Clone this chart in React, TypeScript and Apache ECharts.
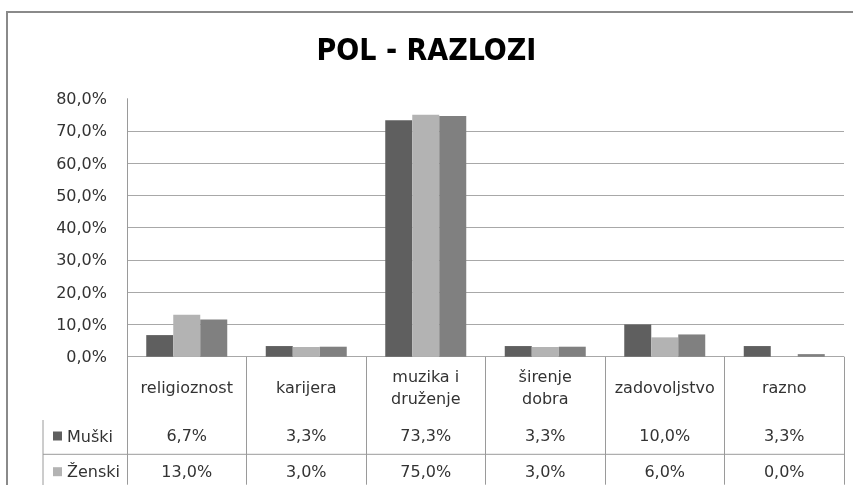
import React, { useEffect, useRef } from "react";
import * as echarts from "echarts";

const categories = ["religioznost", "karijera", "muzika i\ndruženje", "širenje\ndobra", "zadovoljstvo", "razno"];
const muski = [6.7, 3.3, 73.3, 3.3, 10.0, 3.3];
const zenski = [13.0, 3.0, 75.0, 3.0, 6.0, 0.0];
const ukupno = [11.5, 3.1, 74.6, 3.1, 6.9, 0.8];
const seriesNames = ["Muški", "Ženski", "Ukupno"];
const title = "POL - RAZLOZI";

const fmt = (v: number) => v.toFixed(1).replace(".", ",") + "%";
const FONT = "'DejaVu Sans', sans-serif";
const GRAY = "#9a9a9a";

export default function App() {
  const ref = useRef<HTMLDivElement>(null);
  useEffect(() => {
    if (!ref.current) return;
    const chart = echarts.init(ref.current, undefined, { renderer: "svg" });
    const rowAxis = (vals: number[], margin: number) => ({
      type: "category",
      gridIndex: 0,
      position: "bottom",
      data: categories,
      axisLine: { show: false },
      axisTick: { show: false },
      splitLine: { show: false },
      axisLabel: {
        interval: 0,
        margin,
        verticalAlign: "middle",
        fontFamily: FONT,
        fontSize: 16,
        color: "#333",
        formatter: (_v: string, i: number) => fmt(vals[i]),
      },
    });
    chart.setOption({
      animation: false,
      textStyle: { fontFamily: FONT },
      title: {
        text: title,
        left: "center",
        top: 29,
        textStyle: {
          fontFamily: "'Liberation Sans Narrow', 'DejaVu Sans Condensed', sans-serif",
          fontWeight: "bold",
          fontSize: 30,
          color: "#000",
        },
      },
      grid: { left: 127, right: 9, top: 98.7, bottom: 128.3, containLabel: false },
      legend: {
        orient: "vertical",
        left: 53,
        top: 427,
        padding: 0,
        itemWidth: 9,
        itemHeight: 9,
        itemGap: 17.7,
        icon: "rect",
        selectedMode: false,
        data: [seriesNames[0], seriesNames[1]],
        textStyle: { fontFamily: FONT, fontSize: 16, lineHeight: 18, color: "#333" },
      },
      xAxis: [
        {
          type: "category",
          data: categories,
          axisLine: { show: false },
          axisTick: { show: true, length: 128, lineStyle: { color: GRAY } },
          axisLabel: {
            interval: 0,
            margin: 31,
            verticalAlign: "middle",
            fontFamily: FONT,
            fontSize: 16,
            lineHeight: 22,
            color: "#333",
          },
        },
        rowAxis(muski, 79),
        rowAxis(zenski, 114.7),
      ],
      yAxis: {
        type: "value",
        min: 0,
        max: 80,
        interval: 10,
        axisLine: { show: true, lineStyle: { color: GRAY } },
        axisTick: { show: false },
        splitLine: { show: true, showMaxLine: false, lineStyle: { color: "#a8a8a8" } },
        axisLabel: {
          margin: 20,
          fontFamily: FONT,
          fontSize: 16,
          color: "#333",
          formatter: (v: number) => fmt(v),
        },
      },
      series: [
        { name: seriesNames[0], type: "bar", data: muski, barWidth: 27, barGap: "0%", itemStyle: { color: "#5f5f5f" } },
        { name: seriesNames[1], type: "bar", data: zenski, barWidth: 27, barGap: "0%", itemStyle: { color: "#b3b3b3" } },
        { name: seriesNames[2], type: "bar", data: ukupno, barWidth: 27, barGap: "0%", itemStyle: { color: "#808080" } },
      ],
      graphic: [
        { type: "rect", shape: { x: 7, y: 12, width: 900, height: 520 }, style: { fill: "none", stroke: "#8a8a8a", lineWidth: 2 } },
        { type: "line", shape: { x1: 43, y1: 454.3, x2: 844, y2: 454.3 }, style: { stroke: GRAY, lineWidth: 1 } },
        { type: "line", shape: { x1: 43, y1: 420, x2: 43, y2: 485 }, style: { stroke: GRAY, lineWidth: 1 } },
      ],
    });
    return () => chart.dispose();
  }, []);
  return <div ref={ref} style={{ position: "fixed", left: 0, top: 0, width: 853, height: 485 }} />;
}
